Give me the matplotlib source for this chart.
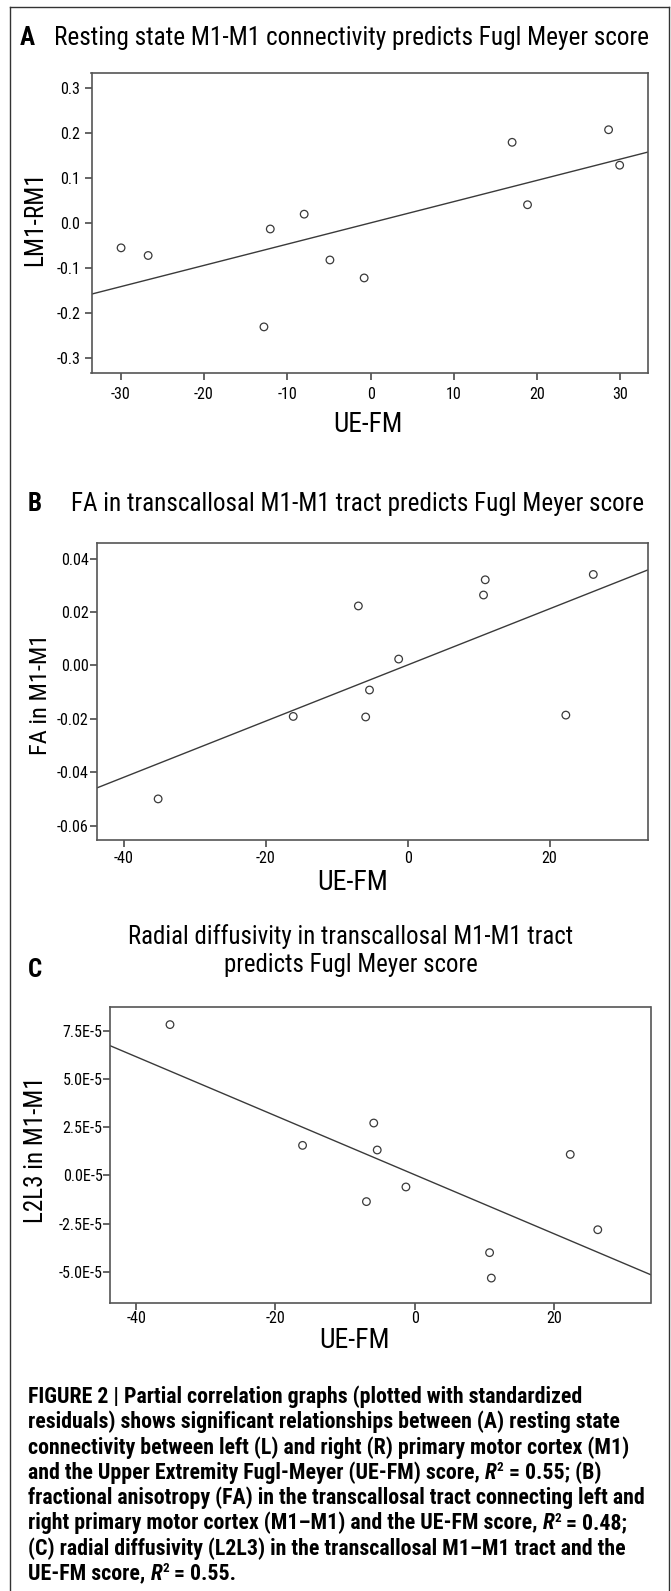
import os
import numpy as np
import matplotlib
matplotlib.use("Agg")
import matplotlib.pyplot as plt
from matplotlib import font_manager as fm
from matplotlib.lines import Line2D
from matplotlib.ticker import FuncFormatter

# data (standardized residuals)
ue_fm_a = [-29.95, -26.7, -12.8, -12.04, -7.97, -4.88, -0.77, 16.99, 18.84, 28.57, 29.9]
lm1_rm1 = [-0.055, -0.072, -0.231, -0.013, 0.020, -0.082, -0.122, 0.180, 0.041, 0.208, 0.129]

ue_fm_b = [-35.17, -16.13, -6.95, -5.92, -5.38, -1.27, 10.69, 10.93, 22.29, 26.16]
fa_m1 = [-0.0500, -0.0191, 0.0223, -0.0193, -0.0092, 0.0024, 0.0264, 0.0321, -0.0186, 0.0341]

ue_fm_c = [-35.13, -16.1, -6.93, -5.88, -5.38, -1.26, 10.75, 11.0, 22.33, 26.28]
l2l3_m1 = [7.83e-5, 1.56e-5, -1.36e-5, 2.72e-5, 1.32e-5, -0.60e-5, -4.01e-5, -5.33e-5, 1.09e-5, -2.82e-5]

ticks_a_x = [-30, -20, -10, 0, 10, 20, 30]
ticks_a_y = [-0.3, -0.2, -0.1, 0.0, 0.1, 0.2, 0.3]
ticks_bc_x = [-40, -20, 0, 20]
ticks_b_y = [-0.06, -0.04, -0.02, 0.0, 0.02, 0.04]
ticks_c_y = [-5.0e-5, -2.5e-5, 0.0, 2.5e-5, 5.0e-5, 7.5e-5]

caption = [
    "FIGURE 2 | Partial correlation graphs (plotted with standardized",
    "residuals) shows significant relationships between (A) resting state",
    "connectivity between left (L) and right (R) primary motor cortex (M1)",
    "and the Upper Extremity Fugl-Meyer (UE-FM) score, @ = 0.55; (B)",
    "fractional anisotropy (FA) in the transcallosal tract connecting left and",
    "right primary motor cortex (M1\u2013M1) and the UE-FM score, @ = 0.48;",
    "(C) radial diffusivity (L2L3) in the transcallosal M1\u2013M1 tract and the",
    "UE-FM score, @ = 0.55.",
]

# look for a condensed sans, the figure uses a narrow Helvetica
files = {os.path.basename(f.fname): f.fname for f in fm.fontManager.ttflist}


def pick(options, weight="normal", style="normal"):
    for o in options:
        if o in files:
            return fm.FontProperties(fname=files[o])
    return fm.FontProperties(family="Liberation Sans", weight=weight, style=style)


REG = pick(["LiberationSansNarrow-Regular.ttf", "RobotoCondensed-Regular.ttf",
            "DejaVuSansCondensed.ttf", "NotoSans-SemiCondensed.ttf"])
BOLD = pick(["LiberationSansNarrow-Bold.ttf", "RobotoCondensed-Bold.ttf",
             "DejaVuSansCondensed-Bold.ttf", "NotoSans-SemiCondensedBold.ttf"], weight="bold")
BOLDIT = pick(["LiberationSansNarrow-BoldItalic.ttf", "RobotoCondensed-BoldItalic.ttf",
               "DejaVuSansCondensed-BoldOblique.ttf", "NotoSans-SemiCondensedBoldItalic.ttf"],
              weight="bold", style="italic")

plt.rcParams["axes.unicode_minus"] = False

W, H = 671, 1591
fig = plt.figure(figsize=(W / 100, H / 100), dpi=100)
renderer = fig.canvas.get_renderer()
INK = "#3a3a3a"


def px(x, y):
    return x / W, 1 - y / H


def fit(t, length, vertical=False):
    bb = t.get_window_extent(renderer)
    size = bb.height if vertical else bb.width
    t.set_fontsize(t.get_fontsize() * length / size)
    return t.get_fontsize()


def panel(box, x, y, xlim, ylim, xticks, yticks, yfmt, ypad, xpad):
    l, t, r, b = box
    ax = fig.add_axes([l / W, 1 - b / H, (r - l) / W, (b - t) / H])
    ax.scatter(x, y, s=30, facecolors="none", edgecolors=INK, linewidths=0.9, zorder=3)
    slope, icpt = np.polyfit(x, y, 1)
    xs = np.array(xlim)
    ax.plot(xs, slope * xs + icpt, color=INK, lw=1.0)
    ax.set_xlim(xlim)
    ax.set_ylim(ylim)
    ax.set_xticks(xticks)
    ax.set_yticks(yticks)
    ax.set_xticklabels([f"{v:g}" for v in xticks])
    ax.set_yticklabels([yfmt(v) for v in yticks])
    ax.tick_params(length=5, width=1.1, color=INK)
    ax.tick_params(axis="y", pad=ypad)
    ax.tick_params(axis="x", pad=xpad)
    for lbl in ax.get_xticklabels() + ax.get_yticklabels():
        lbl.set_fontproperties(REG)
        lbl.set_fontsize(11.5)
    for s in ax.spines.values():
        s.set_color("#555555")
        s.set_linewidth(1.2)
    return ax


ax_a = panel((91.5, 72.7, 648.4, 372.7), ue_fm_a, lm1_rm1, (-33.5, 33.35), (-0.333, 0.335),
             ticks_a_x, ticks_a_y, lambda v: f"{v:.1f}", 3, 5)
ax_b = panel((96.9, 542.7, 647.5, 840.0), ue_fm_b, fa_m1, (-43.8, 33.8), (-0.0654, 0.046),
             ticks_bc_x, ticks_b_y, lambda v: f"{v:.2f}", 1, 3)
ax_c = panel((109.6, 1006.7, 650.5, 1303.3), ue_fm_c, l2l3_m1, (-43.8, 33.85), (-6.64e-5, 8.76e-5),
             ticks_bc_x, ticks_c_y, lambda v: f"{v * 1e5:.1f}E-5", 0, 0.5)


def label(x, y, s, prop, size=16, **kw):
    t = fig.text(*px(x, y), s, va="center", fontproperties=prop, **kw)
    t.set_fontsize(size)
    return t


# titles
t = label(54.5, 38.3, "Resting state M1-M1 connectivity predicts Fugl Meyer score", REG, ha="left")
fs = fit(t, 598)
label(27.4, 38.3, "A", BOLD, fs, ha="center")

t = label(71.2, 504, "FA in transcallosal M1-M1 tract predicts Fugl Meyer score", REG, ha="left")
fs = fit(t, 574)
label(34.3, 504, "B", BOLD, fs, ha="center")

t = label(351, 936.7, "Radial diffusivity in transcallosal M1-M1 tract", REG, ha="center")
fs = fit(t, 445)
label(351, 965, "predicts Fugl Meyer score", REG, fs, ha="center")
label(35, 970, "C", BOLD, fs, ha="center")

# axis labels
for xx, yy, txt, ln in [(368.3, 425, "UE-FM", 69.5), (352.6, 883, "UE-FM", 71),
                        (354.8, 1340, "UE-FM", 70.8)]:
    fit(label(xx, yy, txt, REG, ha="center"), ln)
for xx, yy, txt, ln in [(35.6, 219, "LM1-RM1", 95), (40.7, 694, "FA in M1-M1", 121.7),
                        (35.6, 1150, "L2L3 in M1-M1", 146.7)]:
    fit(label(xx, yy, txt, REG, ha="center", rotation=90), ln, vertical=True)

# caption: size from the widest line, R^2 drawn in pieces
probe = label(28.3, 0, caption[4], BOLD, 13, ha="left")
cs = fit(probe, 617)
probe.remove()
for i, line in enumerate(caption):
    y = 1396.7 + i * 25.3
    x = 28.3
    parts = line.split("@")
    for j, part in enumerate(parts):
        t = label(x, y, part, BOLD, cs, ha="left")
        x = t.get_window_extent(renderer).x1
        if j < len(parts) - 1:
            t = label(x, y, "R", BOLDIT, cs, ha="left")
            x = t.get_window_extent(renderer).x1
            t = label(x, y - 5, "2", BOLD, cs * 0.6, ha="left")
            x = t.get_window_extent(renderer).x1

# outer frame, open at the bottom
for xs, ys in [((10.3, 10.3), (1591, 7.3)), ((10.3, 669), (7.3, 7.3)), ((669, 669), (7.3, 1591))]:
    fig.add_artist(Line2D([x / W for x in xs], [1 - y / H for y in ys],
                          color="#333333", lw=1.0))

fig.savefig("out.png", dpi=100)
